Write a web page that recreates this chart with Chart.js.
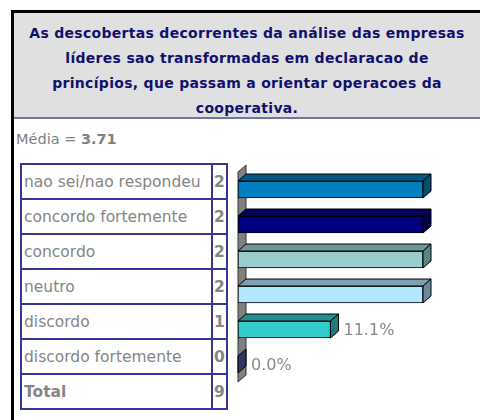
<!DOCTYPE html>
<html lang="pt">
<head>
  <meta charset="UTF-8">
  <title>Declaração de princípios</title>
  <script src="https://cdn.jsdelivr.net/npm/chart.js"></script>
  <style>
    body { margin: 0; width: 480px; height: 420px; overflow: hidden; background: #fff; font-family: "DejaVu Sans", sans-serif; position: relative; }
    #frame { position: absolute; left: 11px; top: 10px; width: 480px; height: 420px; border-left: 3px solid #000; border-top: 3px solid #000; }
    #title { position: absolute; left: 14px; top: 13px; width: 466px; height: 106px; background: #e0e0e0; border-bottom: 2px solid #7474a8;
      color: #10106e; font-weight: bold; font-size: 14px; letter-spacing: 0.3px; line-height: 25px; text-align: center; padding-top: 8px; box-sizing: border-box; }
    #media { position: absolute; left: 16px; top: 131px; font-size: 14.5px; color: #808080; }
    #media b { color: #808080; }
    table { position: absolute; left: 20px; top: 163px; border-collapse: collapse; }
    td { border: 2px solid #35359a; height: 33px; padding: 0 2px; color: #858585; font-size: 15.5px; white-space: nowrap; }
    td.n { width: 11px; text-align: center; font-weight: bold; padding: 0 1px; }
    td.lab { width: 185px; }
    #wrap { position: absolute; left: 228px; top: 150px; width: 206px; height: 260px; }
  </style>
</head>
<body>
  <div id="frame"></div>
  <div id="title">As descobertas decorrentes da análise das empresas<br>líderes sao transformadas em declaracao de<br>princípios, que passam a orientar operacoes da<br>cooperativa.</div>
  <div id="media">Média = <b>3.71</b></div>
  <table id="tbl"></table>
  <div id="wrap"><canvas id="chart"></canvas></div>

  <script>
    // respostas e valores
    const categories = ['nao sei/nao respondeu', 'concordo fortemente', 'concordo', 'neutro', 'discordo', 'discordo fortemente'];
    const counts = [2, 2, 2, 2, 1, 0];
    const percents = [22.2, 22.2, 22.2, 22.2, 11.1, 0.0];
    const total = 9;

    // cores: frente, topo, lado
    const frontColors = ['#0080c0', '#000080', '#99cccc', '#b3e6ff', '#33cccc', '#333366'];
    const topColors = ['#005a87', '#00005a', '#6b9999', '#7da1b3', '#248f8f', '#24244a'];
    const sideColors = ['#004d73', '#00004d', '#5c8383', '#6b8a99', '#1f7a7a', '#3d3d70'];

    // tabela ao lado do gráfico
    let rows = '';
    categories.forEach((c, i) => {
      rows += `<tr><td class="lab">${c}</td><td class="n">${counts[i]}</td></tr>`;
    });
    rows += `<tr><td class="lab"><b>Total</b></td><td class="n">${total}</td></tr>`;
    document.getElementById('tbl').innerHTML = rows;

    const DX = 8, DY = 7;

    const bars3d = {
      id: 'bars3d',
      beforeDatasetsDraw(chart) {
        const ctx = chart.ctx, a = chart.chartArea;
        ctx.save();
        ctx.beginPath();
        ctx.moveTo(a.left, a.top);
        ctx.lineTo(a.left + DX, a.top - DY);
        ctx.lineTo(a.left + DX, a.bottom - DY);
        ctx.lineTo(a.left, a.bottom);
        ctx.closePath();
        ctx.fillStyle = '#808080';
        ctx.fill();
        ctx.strokeStyle = '#333';
        ctx.lineWidth = 1;
        ctx.stroke();
        ctx.restore();
      },
      afterDatasetsDraw(chart) {
        const ctx = chart.ctx;
        const meta = chart.getDatasetMeta(0);
        ctx.save();
        ctx.lineWidth = 1;
        ctx.strokeStyle = '#000';
        meta.data.forEach((bar, i) => {
          const t = bar.y - bar.height / 2, b = bar.y + bar.height / 2;
          const l = bar.base, r = bar.x;
          // topo
          if (r > l) {
            ctx.beginPath();
            ctx.moveTo(l, t);
            ctx.lineTo(l + DX, t - DY);
            ctx.lineTo(r + DX, t - DY);
            ctx.lineTo(r, t);
            ctx.closePath();
            ctx.fillStyle = topColors[i];
            ctx.fill();
            ctx.stroke();
          }
          // lado
          ctx.beginPath();
          ctx.moveTo(r, t);
          ctx.lineTo(r + DX, t - DY);
          ctx.lineTo(r + DX, b - DY);
          ctx.lineTo(r, b);
          ctx.closePath();
          ctx.fillStyle = r > l ? sideColors[i] : frontColors[i];
          ctx.fill();
          ctx.stroke();
          // rótulo
          ctx.fillStyle = '#8a8a8a';
          ctx.font = '16px "DejaVu Sans", sans-serif';
          ctx.textBaseline = 'middle';
          ctx.fillText(percents[i].toFixed(1) + '%', r + DX + 5, bar.y + 1);
        });
        ctx.restore();
      }
    };

    new Chart(document.getElementById('chart'), {
      type: 'bar',
      data: {
        labels: categories,
        datasets: [{
          data: percents,
          backgroundColor: frontColors,
          borderColor: '#000',
          borderWidth: 1,
          borderSkipped: false,
          barThickness: 17
        }]
      },
      options: {
        indexAxis: 'y',
        responsive: true,
        maintainAspectRatio: false,
        animation: false,
        layout: { padding: { top: 22, bottom: 28, left: 10, right: 11 } },
        scales: {
          x: { display: false, min: 0, max: 22.2 },
          y: { display: false }
        },
        plugins: {
          legend: { display: false },
          tooltip: { enabled: false }
        }
      },
      plugins: [bars3d]
    });
  </script>
</body>
</html>
